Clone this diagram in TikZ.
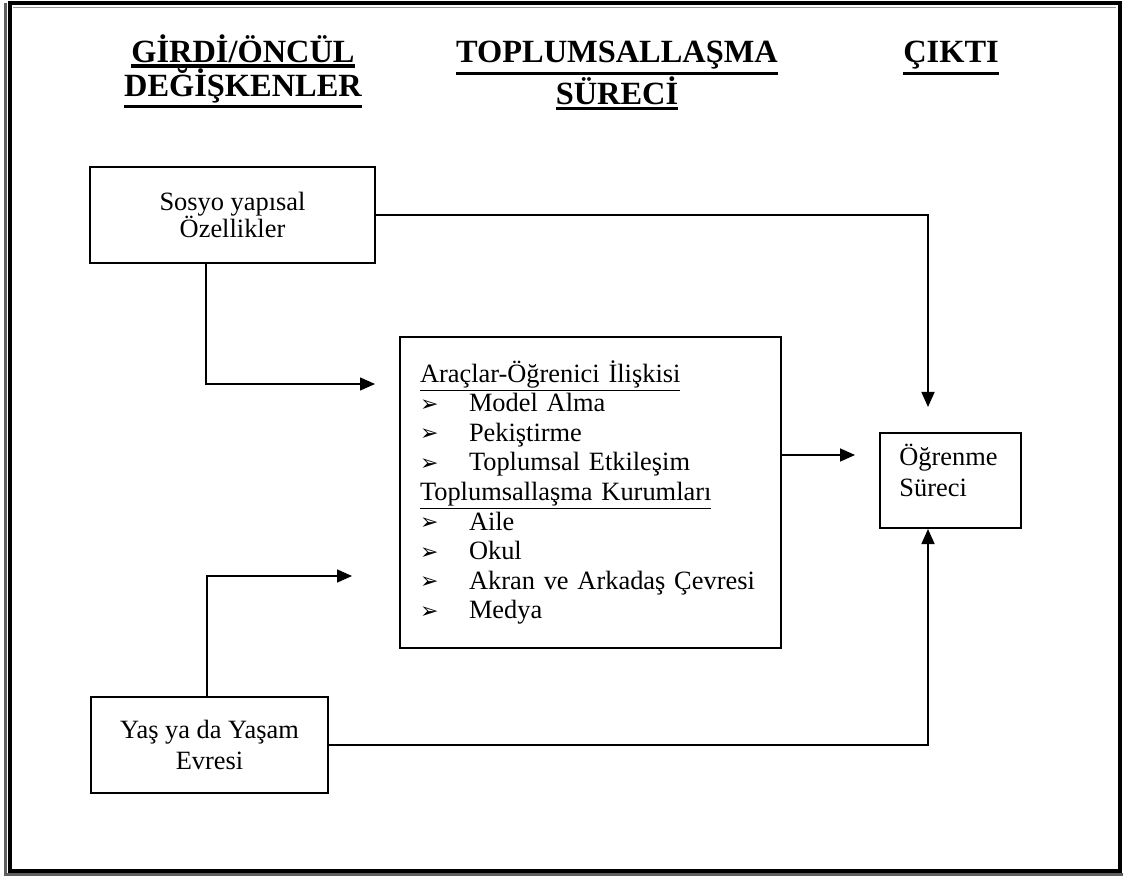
\documentclass[tikz,border=0pt]{standalone}
\usepackage{fontspec}
\setmainfont{Liberation Serif}
\newfontfamily\dingfont{DejaVu Sans}
\usetikzlibrary{arrows.meta, positioning, calc}
\definecolor{shadowgray}{RGB}{95, 95, 95}
\definecolor{linegray}{RGB}{150, 150, 150}
\newcommand{\hdline}[1]{\leavevmode\vtop{\hbox{#1}\kern1pt\hrule height 1.7pt}}
\newcommand{\subline}[1]{\leavevmode\vtop{\hbox{#1}\kern1pt\hrule height 0.5pt}}
\newcommand{\itm}{\leavevmode\makebox[24.5pt][l]{\raisebox{0.3pt}{\dingfont\fontsize{11}{11}\selectfont ➢}}}

\begin{document}
\begin{tikzpicture}[x=0.5pt, y=-0.5pt,
    box/.style={draw, line width=1pt, inner sep=0pt},
    body/.style={font=\fontsize{13.2}{14.8}\selectfont},
    heading/.style={font=\bfseries\fontsize{16.2}{17}\selectfont, align=center, inner sep=0pt, anchor=north},
    arr/.style={line width=0.8pt, -{Triangle[length=7.5pt, width=6.5pt]}}]
    \useasboundingbox (0,0) rectangle (1123,876);

    % Page frame
    \draw[shadowgray, line width=1.5pt] (5.5,3) -- (5.5,874.5) -- (1123,874.5);
    \draw[line width=2pt] (9.5,3) rectangle (1120,870.5);
    \draw[linegray, line width=0.5pt] (13,8) -- (1116,8);

    % Headings
    \node[heading] (girdi) at (243,34) {\hdline{GİRDİ/ÖNCÜL}\\\hdline{DEĞİŞKENLER}};
    \node[heading] (surec) at (617,41) {\hdline{TOPLUMSALLAŞMA}\\\hdline{SÜRECİ}};
    \node[heading] (cikti) at (951,41) {\hdline{ÇIKTI}};

    % Boxes
    \node[box, align=center, minimum width=142.5pt, minimum height=48pt, font=\fontsize{13.2}{13.6}\selectfont] (sosyo) at (232.5,215) {Sosyo yapısal\\Özellikler};
    \node[box, body, align=left, text width=170.5pt, inner xsep=10pt, minimum height=155.5pt, anchor=north west] (araclar) at (399,336)
        {\subline{Araçlar-Öğrenici İlişkisi}\\
         \itm Model Alma\\
         \itm Pekiştirme\\
         \itm Toplumsal Etkileşim\\
         \subline{Toplumsallaşma Kurumları}\\
         \itm Aile\\
         \itm Okul\\
         \itm Akran ve Arkadaş Çevresi\\
         \itm Medya};
    \node[box, minimum width=70.5pt, minimum height=47.5pt, anchor=north west] (ogrenme) at (879,432) {};
    \node[align=left, anchor=north west, inner sep=0pt, font=\fontsize{13.2}{15.5}\selectfont] (ogrenmetext) at (899,444) {Öğrenme\\Süreci};
    \node[box, align=center, minimum width=118.5pt, minimum height=48pt, anchor=north west, font=\fontsize{13.2}{15.5}\selectfont] (yas) at (90,696) {Yaş ya da Yaşam\\Evresi};

    % Arrow ends
    \coordinate (sosyotip) at (928,407);
    \coordinate (uppertip) at (375,384);
    \coordinate (lowertip) at (352,576);
    \coordinate (midtip) at (855,455);
    \coordinate (yastip) at (928,529);

    % Connectors
    \draw[arr] (sosyo.east) -| (sosyotip);
    \draw[arr] ([xshift=58.5pt]sosyo.south west) |- (uppertip);
    \draw[arr] ([xshift=58.5pt]yas.north west) |- (lowertip);
    \draw[arr] (araclar.east |- midtip) -- (midtip);
    \draw[arr] (yas.east) -| (yastip);
\end{tikzpicture}
\end{document}
